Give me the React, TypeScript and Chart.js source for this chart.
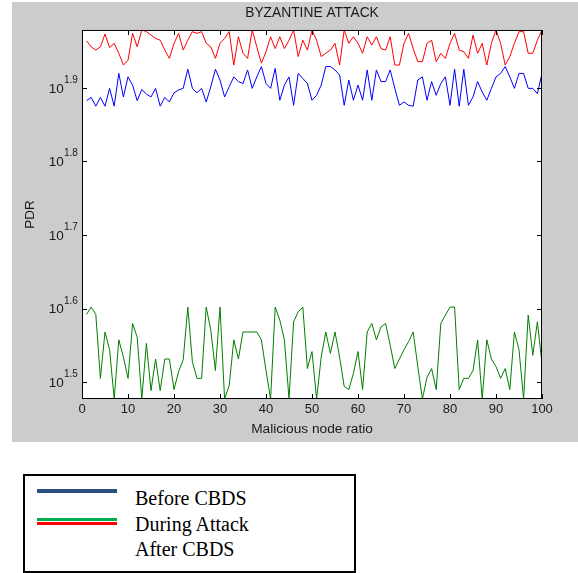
import React, { useEffect, useRef } from 'react';
import { Chart, registerables } from 'chart.js';

Chart.register(...registerables);

// ---- Text ----
const TITLE = 'BYZANTINE ATTACK';
const X_TITLE = 'Malicious node ratio';
const Y_TITLE = 'PDR';
const LEGEND_LABELS = ['Before CBDS', 'During Attack', 'After CBDS'];

// ---- Axes ----
const X_MIN = 0;
const X_MAX = 100;
const X_STEP = 10;
const Y_MIN = 30;
const Y_MAX = 95.2;
const Y_TICK_EXPONENTS = ['1.5', '1.6', '1.7', '1.8', '1.9'];

// ---- Series (x = 1..100) ----
const beforeCBDS = [
  76.3, 77.1, 75.0, 77.1, 75.0, 79.3, 75.0, 83.1, 77.2, 82.2,
  80.1, 76.3, 79.0, 77.9, 77.2, 79.3, 75.0, 77.1, 76.0, 78.2,
  78.9, 79.3, 84.2, 79.3, 78.2, 79.3, 76.0, 79.7, 84.2, 81.4,
  77.2, 79.7, 82.2, 81.0, 80.5, 84.0, 79.3, 82.2, 84.9, 80.5,
  79.3, 84.4, 76.4, 80.1, 82.2, 75.2, 83.1, 81.8, 80.5, 76.4,
  77.6, 80.1, 84.9, 84.9, 84.0, 82.7, 75.2, 81.4, 76.4, 80.1,
  76.4, 84.0, 76.4, 84.0, 81.0, 81.0, 84.0, 79.3, 75.2, 76.0,
  75.2, 75.0, 81.4, 82.2, 76.4, 81.0, 77.6, 80.5, 82.2, 75.2,
  84.2, 75.0, 84.2, 75.2, 77.2, 81.0, 78.4, 76.4, 79.3, 82.2,
  83.1, 84.9, 82.2, 79.3, 83.1, 83.1, 79.3, 79.3, 78.0, 83.1,
];

const duringAttack = [
  39.1, 40.0, 39.1, 32.0, 37.0, 35.0, 30.0, 36.1, 34.2, 32.0,
  38.0, 36.4, 30.0, 35.7, 30.8, 34.0, 30.8, 34.0, 34.0, 30.9,
  32.7, 33.9, 40.0, 33.7, 32.0, 32.0, 40.0, 37.2, 32.8, 40.0,
  30.0, 31.3, 36.1, 34.0, 37.0, 37.0, 37.0, 37.0, 36.1, 32.8,
  30.0, 40.0, 38.4, 36.1, 30.0, 38.2, 39.4, 40.0, 33.0, 34.8,
  30.0, 34.2, 37.0, 34.6, 37.0, 34.2, 31.2, 30.9, 32.5, 34.8,
  30.9, 37.0, 38.0, 36.1, 37.6, 38.0, 35.5, 33.0, 34.0, 35.0,
  35.9, 37.0, 33.2, 30.0, 32.1, 33.0, 30.9, 38.0, 39.0, 40.0,
  40.0, 30.9, 32.0, 32.0, 32.8, 36.1, 30.0, 36.1, 34.0, 33.2,
  32.0, 33.0, 30.9, 37.0, 35.0, 30.0, 39.0, 34.4, 38.2, 33.5,
];

const afterCBDS = [
  92.0, 90.3, 89.4, 90.3, 94.0, 90.1, 91.3, 88.5, 85.3, 86.6,
  94.2, 90.3, 95.2, 94.7, 93.7, 92.7, 92.2, 89.4, 87.1, 91.3,
  94.2, 89.4, 92.2, 94.7, 94.2, 94.7, 91.3, 90.3, 87.1, 91.3,
  92.7, 94.7, 85.3, 93.2, 88.5, 87.1, 95.2, 90.3, 85.8, 88.9,
  93.2, 89.8, 93.2, 89.8, 92.2, 95.2, 87.6, 92.2, 89.4, 95.2,
  92.2, 87.6, 88.5, 89.4, 91.3, 85.3, 95.2, 91.3, 93.2, 91.3,
  88.5, 93.2, 90.8, 93.2, 89.8, 89.4, 93.2, 85.3, 85.3, 91.3,
  94.2, 89.8, 86.2, 86.2, 91.3, 92.2, 86.2, 88.5, 87.1, 91.3,
  94.2, 89.4, 88.9, 87.1, 93.7, 88.5, 91.3, 85.3, 91.3, 95.2,
  91.3, 85.3, 87.6, 91.3, 94.7, 94.7, 88.5, 88.5, 92.2, 95.2,
];

const SANS = '"Liberation Sans", Arial, Helvetica, sans-serif';
const SERIF = '"Liberation Serif", "Times New Roman", serif';
const TEXT_COLOR = '#1a1a1a';

const toPoints = (vals: number[]) => vals.map((v, i) => ({ x: i + 1, y: v }));

const matlabPlugin = {
  id: 'matlabFrame',
  beforeDraw(chart: any) {
    const { ctx, width, height, chartArea } = chart;
    ctx.save();
    ctx.fillStyle = '#ffffff';
    ctx.fillRect(0, 0, width, height);
    ctx.fillStyle = '#cccccc';
    ctx.fillRect(12, 2, width - 12, 440);
    ctx.fillStyle = '#ffffff';
    ctx.fillRect(chartArea.left, chartArea.top, chartArea.right - chartArea.left, chartArea.bottom - chartArea.top);
    ctx.restore();
  },
  afterDraw(chart: any) {
    const { ctx, chartArea } = chart;
    const { left, top, right, bottom } = chartArea;
    const xs = chart.scales.x;
    const ys = chart.scales.y;
    ctx.save();
    ctx.strokeStyle = '#000000';
    ctx.lineWidth = 1;
    ctx.strokeRect(left + 0.5, top + 0.5, right - left - 1, bottom - top - 1);
    ctx.beginPath();
    for (let v = X_MIN; v <= X_MAX; v += X_STEP) {
      const px = Math.round(xs.getPixelForValue(v)) + 0.5;
      ctx.moveTo(px, bottom);
      ctx.lineTo(px, bottom - 5);
      ctx.moveTo(px, top);
      ctx.lineTo(px, top + 5);
    }
    for (const e of Y_TICK_EXPONENTS) {
      const py = Math.round(ys.getPixelForValue(Math.pow(10, parseFloat(e)))) + 0.5;
      ctx.moveTo(left, py);
      ctx.lineTo(left + 5, py);
      ctx.moveTo(right, py);
      ctx.lineTo(right - 5, py);
    }
    ctx.stroke();

    ctx.fillStyle = TEXT_COLOR;
    ctx.textBaseline = 'alphabetic';
    for (const e of Y_TICK_EXPONENTS) {
      const py = ys.getPixelForValue(Math.pow(10, parseFloat(e)));
      ctx.font = `13.5px ${SANS}`;
      ctx.textAlign = 'right';
      ctx.fillText('10', left - 18.3, py + 4.8);
      ctx.font = `10px ${SANS}`;
      ctx.textAlign = 'left';
      ctx.fillText(e, left - 18, py - 5);
    }
    ctx.restore();
  },
};

function PdrChart() {
  const ref = useRef<HTMLCanvasElement | null>(null);
  useEffect(() => {
    if (!ref.current) return;
    const chart = new Chart(ref.current, {
      type: 'line',
      data: {
        datasets: [
          {
            label: LEGEND_LABELS[0],
            data: toPoints(beforeCBDS),
            borderColor: '#0000ff',
            borderWidth: 1,
            pointRadius: 0,
            fill: false,
            tension: 0,
          },
          {
            label: LEGEND_LABELS[1],
            data: toPoints(duringAttack),
            borderColor: '#008000',
            borderWidth: 1,
            pointRadius: 0,
            fill: false,
            tension: 0,
          },
          {
            label: LEGEND_LABELS[2],
            data: toPoints(afterCBDS),
            borderColor: '#ff0000',
            borderWidth: 1,
            pointRadius: 0,
            fill: false,
            tension: 0,
          },
        ],
      },
      options: {
        animation: false,
        responsive: false,
        devicePixelRatio: 1,
        layout: { padding: { left: 0, top: 0, right: 36, bottom: 0 } },
        plugins: {
          legend: { display: false },
          tooltip: { enabled: false },
          title: {
            display: true,
            text: TITLE,
            fullSize: false,
            color: TEXT_COLOR,
            font: { family: SANS, size: 13.8, weight: 'normal' },
            padding: { top: 4.7, bottom: 8.7 },
          },
        },
        scales: {
          x: {
            type: 'linear',
            min: X_MIN,
            max: X_MAX,
            grid: { display: false, drawTicks: false },
            border: { display: false },
            ticks: {
              stepSize: X_STEP,
              autoSkip: false,
              maxRotation: 0,
              padding: 3,
              color: TEXT_COLOR,
              font: { family: SANS, size: 13 },
            },
            title: {
              display: true,
              text: X_TITLE,
              color: TEXT_COLOR,
              font: { family: SANS, size: 13.7 },
              padding: { top: 0, bottom: 7.6 },
            },
            afterFit: (s: any) => {
              s.height = 46;
            },
          },
          y: {
            type: 'logarithmic',
            min: Y_MIN,
            max: Y_MAX,
            grid: { display: false, drawTicks: false },
            border: { display: false },
            ticks: { display: false },
            afterBuildTicks: (s: any) => {
              s.ticks = Y_TICK_EXPONENTS.map((e) => ({ value: Math.pow(10, parseFloat(e)) }));
            },
            title: {
              display: true,
              text: Y_TITLE,
              color: TEXT_COLOR,
              font: { family: SANS, size: 13.5 },
              padding: { top: 22, bottom: 0 },
            },
            afterFit: (s: any) => {
              s.width = 82;
            },
          },
        },
      },
      plugins: [matlabPlugin],
    } as any);
    return () => chart.destroy();
  }, []);
  return (
    <canvas
      ref={ref}
      width={578}
      height={445}
      style={{ position: 'absolute', left: 0, top: 0, display: 'block' }}
    />
  );
}

const legendText = (top: number): React.CSSProperties => ({
  position: 'absolute',
  left: 135,
  top,
  fontFamily: SERIF,
  fontSize: 20,
  lineHeight: '20px',
  color: '#000',
  whiteSpace: 'nowrap',
});

export default function App() {
  return (
    <div
      style={{
        position: 'fixed',
        left: 0,
        top: 0,
        width: 578,
        height: 573,
        background: '#ffffff',
        overflow: 'hidden',
      }}
    >
      <PdrChart />
      <div
        style={{
          position: 'absolute',
          left: 23,
          top: 474,
          width: 333,
          height: 99,
          border: '2px solid #000',
          boxSizing: 'border-box',
          background: '#fff',
        }}
      />
      <div style={{ position: 'absolute', left: 37, top: 489, width: 80, height: 3.5, background: '#2b4f81' }} />
      <div style={{ position: 'absolute', left: 37, top: 517.5, width: 80, height: 3.5, background: '#00b050' }} />
      <div style={{ position: 'absolute', left: 37, top: 521.5, width: 80, height: 3.5, background: '#ff0000' }} />
      <div style={legendText(488.3)}>{LEGEND_LABELS[0]}</div>
      <div style={legendText(514)}>{LEGEND_LABELS[1]}</div>
      <div style={legendText(539.3)}>{LEGEND_LABELS[2]}</div>
    </div>
  );
}
